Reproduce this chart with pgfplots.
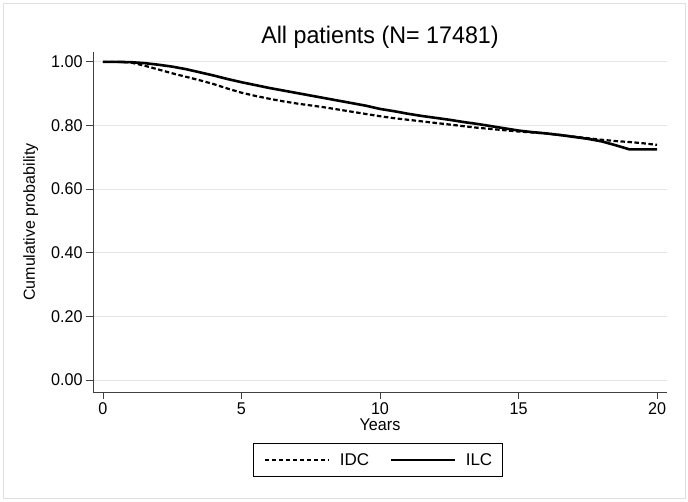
\documentclass[border=0pt]{standalone}
\usepackage{fontspec}
\setmainfont{Liberation Sans}
\usepackage{pgfplots}
\pgfplotsset{compat=1.18}
\usepackage{pgfplotstable}

\pgfplotstableread{
t s
0.0 1.000
0.5 1.000
1.0 0.998
1.5 0.988
2.0 0.976
2.5 0.964
3.0 0.953
3.5 0.942
4.0 0.930
4.5 0.916
5.0 0.903
5.5 0.893
6.0 0.884
6.5 0.876
7.0 0.869
7.5 0.863
8.0 0.857
8.5 0.850
9.0 0.843
9.5 0.836
10.0 0.829
10.5 0.823
11.0 0.818
11.5 0.813
12.0 0.808
12.5 0.803
13.0 0.798
13.5 0.793
14.0 0.789
14.5 0.785
15.0 0.781
15.5 0.778
16.0 0.775
16.5 0.770
17.0 0.765
17.5 0.760
18.0 0.755
18.5 0.751
19.0 0.748
19.5 0.744
20.0 0.739
}\idc

\pgfplotstableread{
t s
0.0 1.000
0.5 1.000
1.0 0.999
1.5 0.996
2.0 0.991
2.5 0.985
3.0 0.977
3.5 0.967
4.0 0.957
4.5 0.946
5.0 0.936
5.5 0.927
6.0 0.918
6.5 0.910
7.0 0.902
7.5 0.894
8.0 0.886
8.5 0.878
9.0 0.870
9.5 0.862
10.0 0.852
10.5 0.845
11.0 0.837
11.5 0.830
12.0 0.824
12.5 0.818
13.0 0.811
13.5 0.805
14.0 0.798
14.5 0.791
15.0 0.784
15.5 0.779
16.0 0.775
16.5 0.770
17.0 0.764
17.5 0.758
18.0 0.750
18.5 0.738
19.0 0.725
19.5 0.725
20.0 0.725
}\ilc

\begin{document}
\begin{tikzpicture}
\useasboundingbox (-93pt,-109pt) rectangle (595pt,392pt);
\draw[black!12, line width=0.8pt] (-90pt,-106pt) rectangle (592pt,389pt);
\begin{axis}[
  at={(0pt,0pt)}, anchor=south west,
  scale only axis,
  width=574pt, height=340pt,
  xmin=-0.36, xmax=20.36,
  ymin=-0.038, ymax=1.031,
  axis x line*=bottom, axis y line*=left,
  axis line style={-, black!75, line width=0.8pt},
  xtick={0,5,10,15,20},
  ytick={0,0.2,0.4,0.6,0.8,1},
  yticklabel style={/pgf/number format/.cd, fixed, fixed zerofill, precision=2},
  /pgf/number format/assume math mode=true,
  ticklabel style={font=\fontsize{17}{17}\selectfont, black, xscale=0.95},
  tick align=outside,
  major tick length=7pt,
  tick style={black!75, line width=0.8pt},
  ymajorgrids,
  grid style={black!10, line width=0.8pt},
  title={All patients (N= 17481)},
  title style={font=\fontsize{24}{24}\selectfont, xscale=0.97, at={(axis description cs:0.5,1)}, anchor=base, yshift=2pt},
  xlabel={Years},
  xlabel style={font=\fontsize{17}{17}\selectfont, xscale=0.95, at={(axis description cs:0.5,0)}, anchor=base, yshift=-38pt},
  ylabel={Cumulative probability},
  ylabel style={font=\fontsize{16}{16}\selectfont, at={([xshift=-58pt]axis description cs:0,0.5)}, anchor=base},
  legend columns=2,
  legend image code/.code={\path (-2pt,0pt) (72pt,0pt);\draw[#1] (0pt,0pt) -- (64pt,0pt);},
  legend style={at={(0.4965,-0.15)}, anchor=north, draw=black, line width=0.8pt,
    font=\fontsize{17}{17}\selectfont, inner xsep=8pt, inner ysep=8pt,
    /tikz/every even column/.append style={column sep=16pt}},
]
\addplot[black, line width=2.2pt, dash pattern=on 4.5pt off 2.5pt] table[x=t, y=s] {\idc};
\addlegendentry{IDC}
\addplot[black, line width=2.6pt] table[x=t, y=s] {\ilc};
\addlegendentry{ILC}
\end{axis}
\end{tikzpicture}
\end{document}
